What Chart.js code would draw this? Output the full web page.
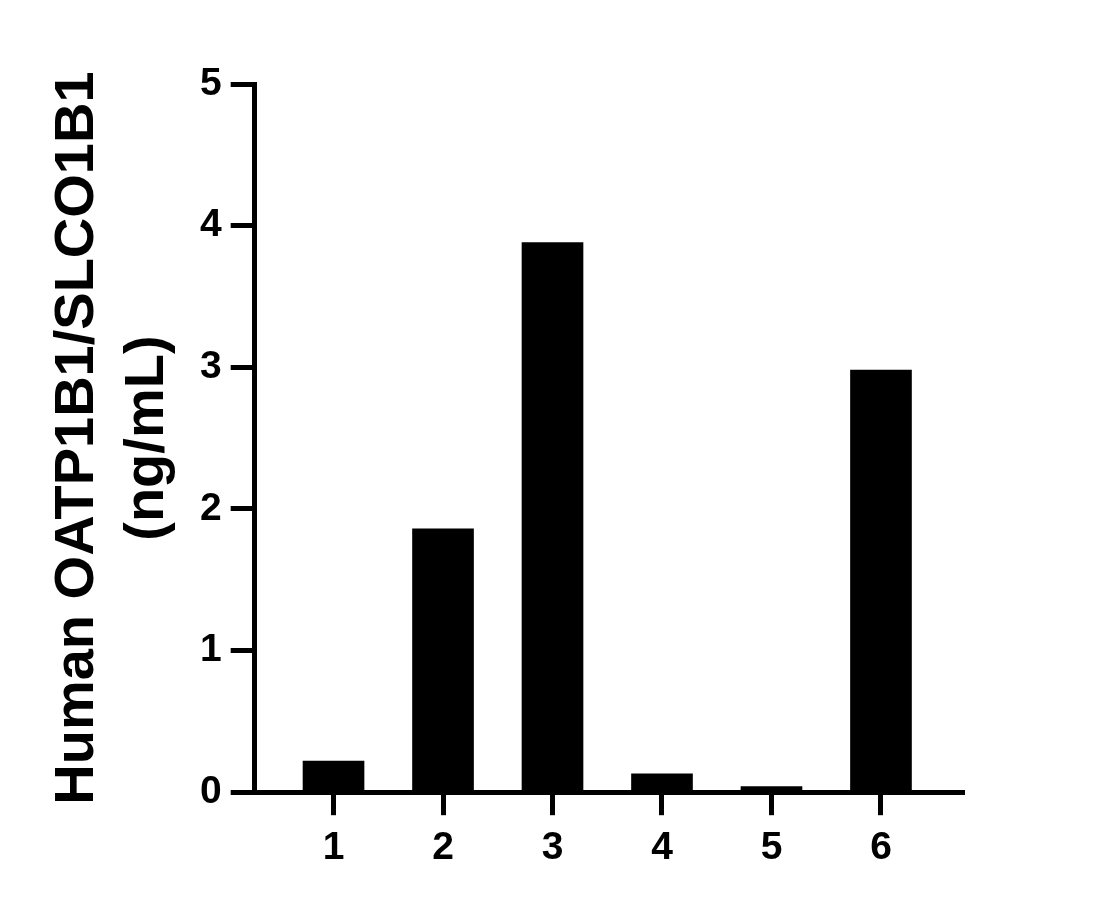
<!DOCTYPE html>
<html>
<head>
<meta charset="utf-8">
<script src="https://cdn.jsdelivr.net/npm/chart.js@4"></script>
<style>
  html, body { margin: 0; padding: 0; background: #fff; }
  #wrap { width: 1095px; height: 909px; }
</style>
</head>
<body>
<div id="wrap"><canvas id="BarChart"></canvas></div>
<script>
const samples = [1, 2, 3, 4, 5, 6];
const values = [0.22, 1.86, 3.88, 0.13, 0.04, 2.98];
const yTicks = [0, 1, 2, 3, 4, 5];
const yTitle = ["Human OATP1B1/SLCO1B1", "(ng/mL)"];

const font = "'Liberation Sans', Arial, sans-serif";

// data
const data = {
  datasets: [
    {
      label: "OATP1B1",
      data: samples.map((s, i) => ({ x: s, y: values[i] })),
      backgroundColor: "#000",
      borderWidth: 0,
      barThickness: 61,
    },
  ],
};

// config
const config = {
  type: "bar",
  data,
  options: {
    responsive: true,
    maintainAspectRatio: false,
    animation: false,
    layout: { padding: { left: 43, right: 133, top: 84, bottom: 27 } },
    plugins: { legend: { display: false }, tooltip: { enabled: false } },
    scales: {
      x: {
        type: "linear",
        offset: false,
        min: 0.28,
        max: 6.74,
        afterBuildTicks: (scale) => { scale.ticks = samples.map(v => ({ value: v })); },
        border: { display: true, color: "#000", width: 5 },
        grid: { offset: false, drawOnChartArea: false, color: "#000", lineWidth: 5, tickLength: 23 },
        ticks: { color: "#000", padding: 10, font: { family: font, size: 39, weight: "bold" } },
      },
      y: {
        min: 0,
        max: 5,
        afterBuildTicks: (scale) => { scale.ticks = yTicks.map(v => ({ value: v })); },
        border: { display: true, color: "#000", width: 5 },
        grid: { drawOnChartArea: false, color: "#000", lineWidth: 5, tickLength: 24 },
        ticks: { color: "#000", padding: 9, font: { family: font, size: 39, weight: "bold" } },
        title: {
          display: true,
          text: yTitle,
          color: "#000",
          font: { family: font, size: 56, weight: "bold", lineHeight: 1.25 },
          padding: { top: 0, bottom: 8 },
        },
      },
    },
  },
};

// render init block
const BarChart = new Chart(document.getElementById("BarChart"), config);
</script>
</body>
</html>
